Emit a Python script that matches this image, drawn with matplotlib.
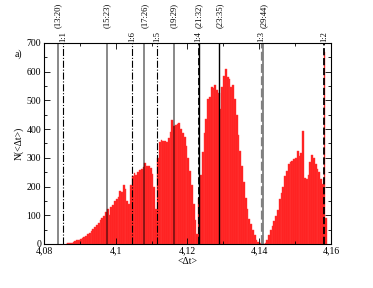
import numpy as np
import matplotlib
matplotlib.use('Agg')
import matplotlib.pyplot as plt
from matplotlib.ticker import MultipleLocator, FuncFormatter
import matplotlib.transforms as mtransforms

plt.rcParams['font.family'] = 'Liberation Serif'

# histogram: first bin edge, bin width and counts
bin_start = 4.0860
bin_width = 0.0005
counts = [1, 2, 4, 5, 7, 10, 13, 15, 18, 20,
          23, 28, 33, 38, 45, 52, 58, 66, 73, 82,
          90, 98, 112, 120, 100, 128, 135, 150, 158, 165,
          185, 180, 205, 190, 150, 140, 205, 235, 248, 240,
          250, 258, 262, 268, 282, 270, 272, 265, 245, 200,
          120, 300, 355, 362, 358, 360, 355, 370, 390, 430,
          412, 415, 418, 420, 400, 385, 372, 340, 300, 255,
          205, 140, 85, 35, 160, 240, 320, 385, 435, 505,
          510, 548, 543, 554, 535, 525, 470, 545, 585, 608,
          580, 575, 545, 552, 505, 450, 380, 325, 272, 215,
          160, 120, 88, 68, 50, 30, 15, 7, 2, 0,
          0, 5, 15, 30, 48, 62, 80, 98, 118, 155,
          178, 200, 235, 255, 278, 286, 288, 295, 300, 325,
          305, 318, 395, 228, 225, 240, 285, 310, 300, 280,
          262, 252, 225, 210, 670, 90]

# resonance positions (p:q) and 1:n
pq_labels = ['(13:20)', '(15:23)', '(17:26)', '(19:29)', '(21:32)', '(23:35)', '(29:44)']
pq_pos = [4.0838, 4.0975, 4.1080, 4.1163, 4.1233, 4.1289, 4.1412]
pq_dark = [False, False, False, False, True, True, False]

n_labels = ['1:1', '1:6', '1:5', '1:4', '1:3', '1:2']
n_pos = [4.0854, 4.1046, 4.1116, 4.1231, 4.1407, 4.1581]

fig = plt.figure(figsize=(3.73, 2.88), dpi=100)
ax = fig.add_axes([0.118, 0.153, 0.769, 0.698])

edges = bin_start + bin_width * np.arange(len(counts))
ax.bar(edges, counts, width=bin_width, align='edge', color='#ff1e1e',
       edgecolor='#ff3a3a', linewidth=0.3)

trans = mtransforms.blended_transform_factory(ax.transData, ax.transAxes)

for lab, x, dark in zip(pq_labels, pq_pos, pq_dark):
    if dark:
        ax.axvline(x, color='black', lw=1.0)
    else:
        ax.axvline(x, color='black', alpha=0.5, lw=1.3)
    ax.text(x, 1.075, lab, transform=trans, rotation=90, ha='center',
            va='bottom', fontsize=6.2)

for lab, x in zip(n_labels, n_pos):
    if lab == '1:3':
        ax.axvline(x, color='gray', lw=1.6, ls=(0, (4, 1.5)))
    elif lab in ('1:4', '1:2'):
        ax.axvline(x, color='black', lw=1.3, ls=(0, (4, 1.5)))
    else:
        ax.axvline(x, color='black', lw=0.8, ls='-.')
    ax.text(x, 1.005, lab, transform=trans, rotation=90, ha='center',
            va='bottom', fontsize=6.2)

ax.set_xlim(4.08, 4.16)
ax.set_ylim(0, 700)
ax.xaxis.set_major_locator(MultipleLocator(0.02))
ax.xaxis.set_minor_locator(MultipleLocator(0.01))
ax.yaxis.set_major_locator(MultipleLocator(100))
ax.yaxis.set_minor_locator(MultipleLocator(50))
ax.xaxis.set_major_formatter(FuncFormatter(lambda v, p: ('%g' % round(v, 4)).replace('.', ',')))
ax.tick_params(which='both', direction='in', top=True, right=True, labelsize=7, pad=2)
ax.tick_params(which='major', length=4, width=0.6)
ax.tick_params(which='minor', length=2, width=0.6)
for s in ax.spines.values():
    s.set_linewidth(0.8)

ax.set_xlabel('<Δt>', fontsize=7, labelpad=1)
ax.set_ylabel('N(<Δt>)', fontsize=7, labelpad=2)
fig.text(18 / 373, 1 - 54 / 288, 'a)', fontsize=7, ha='center', va='center')

fig.savefig('out.png', dpi=100)
